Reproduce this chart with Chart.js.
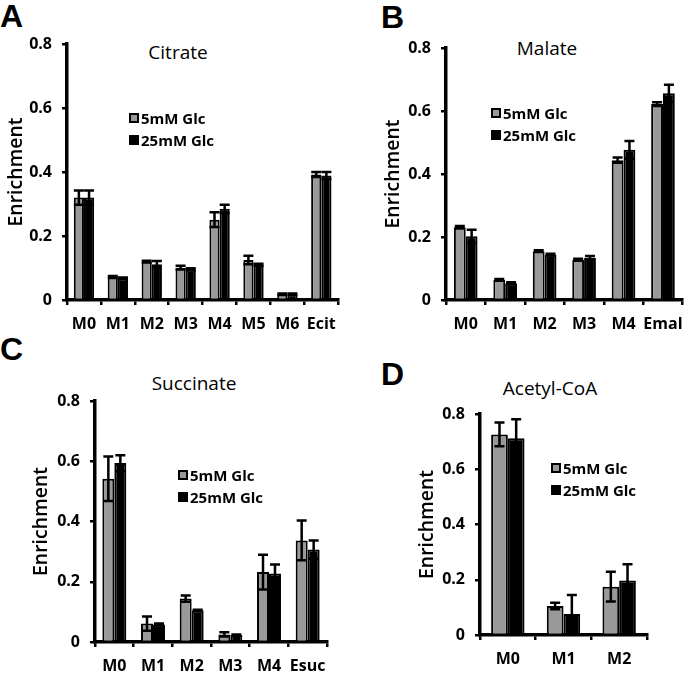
<!DOCTYPE html>
<html><head><meta charset="utf-8">
<script src="https://cdn.jsdelivr.net/npm/chart.js@4.4.0/dist/chart.umd.min.js"></script>
<style>
html,body{margin:0;padding:0;background:#fff}
body{width:693px;height:674px;position:relative;overflow:hidden;font-family:"Open Sans",sans-serif;color:#000}
.wrap{position:absolute}
.letter{position:absolute;font-family:"Liberation Sans",Arial,sans-serif;font-weight:bold;font-size:32px;line-height:32px}
.ptitle{position:absolute;font-size:19px;font-weight:500;line-height:22px;transform:translate(-50%,-50%);white-space:nowrap}
.legend{position:absolute;font-size:15px;font-weight:700;line-height:22px;white-space:nowrap}
.legend .row{display:flex;align-items:center;height:22px}
.legend .box{width:6px;height:6px;margin-right:2px;border:2px solid #000}
</style>
</head><body>

<div class="letter" style="left:0;top:0">A</div>
<div class="letter" style="left:381px;top:1px">B</div>
<div class="letter" style="left:0;top:333px">C</div>
<div class="letter" style="left:381px;top:358px">D</div>

<div class="ptitle" style="left:178px;top:52px">Citrate</div>
<div class="ptitle" style="left:547px;top:48px">Malate</div>
<div class="ptitle" style="left:194px;top:383px">Succinate</div>
<div class="ptitle" style="left:550px;top:388px">Acetyl-CoA</div>

<div class="wrap" style="left:0;top:0;width:346px;height:340px"><canvas id="cA"></canvas></div>
<div class="wrap" style="left:346px;top:0;width:347px;height:340px"><canvas id="cB"></canvas></div>
<div class="wrap" style="left:0;top:340px;width:346px;height:334px"><canvas id="cC"></canvas></div>
<div class="wrap" style="left:346px;top:340px;width:347px;height:334px"><canvas id="cD"></canvas></div>

<div class="legend" style="left:129px;top:107px" id="lgA"></div>
<div class="legend" style="left:491px;top:102px" id="lgB"></div>
<div class="legend" style="left:178px;top:464px" id="lgC"></div>
<div class="legend" style="left:551px;top:457px" id="lgD"></div>

<script>
// ---------- data ----------
const seriesNames = ['5mM Glc', '25mM Glc'];
const yTicks = [0, 0.2, 0.4, 0.6, 0.8];

const citrateLabels = ['M0','M1','M2','M3','M4','M5','M6','Ecit'];
const citrate5      = [0.320, 0.072, 0.120, 0.101, 0.251, 0.125, 0.018, 0.392];
const citrate5Err   = [0.022, 0.003, 0.003, 0.006, 0.023, 0.013, 0.002, 0.008];
const citrate25     = [0.320, 0.068, 0.112, 0.096, 0.285, 0.110, 0.018, 0.389];
const citrate25Err  = [0.022, 0.002, 0.010, 0.003, 0.013, 0.003, 0.002, 0.011];

const malateLabels = ['M0','M1','M2','M3','M4','Emal'];
const malate5      = [0.231, 0.064, 0.155, 0.128, 0.444, 0.622];
const malate5Err   = [0.004, 0.003, 0.003, 0.003, 0.008, 0.006];
const malate25     = [0.202, 0.053, 0.144, 0.134, 0.477, 0.656];
const malate25Err  = [0.021, 0.003, 0.003, 0.006, 0.028, 0.027];

const succinateLabels = ['M0','M1','M2','M3','M4','Esuc'];
const succinate5      = [0.542, 0.061, 0.144, 0.025, 0.232, 0.337];
const succinate5Err   = [0.074, 0.024, 0.010, 0.007, 0.058, 0.066];
const succinate25     = [0.594, 0.058, 0.105, 0.023, 0.227, 0.307];
const succinate25Err  = [0.026, 0.003, 0.002, 0.002, 0.030, 0.030];

const acetylLabels = ['M0','M1','M2'];
const acetyl5      = [0.726, 0.105, 0.175];
const acetyl5Err   = [0.043, 0.012, 0.054];
const acetyl25     = [0.712, 0.076, 0.197];
const acetyl25Err  = [0.069, 0.069, 0.059];

// ---------- styling ----------
const GRAY = '#999999';
const BLACK = '#000000';
const FONT = '"Open Sans", sans-serif';

const errorBarPlugin = {
  id: 'errorBars',
  afterDatasetsDraw(chart) {
    const ctx = chart.ctx;
    const y = chart.scales.y;
    ctx.save();
    ctx.strokeStyle = '#000';
    ctx.lineWidth = 2.5;
    chart.data.datasets.forEach((ds, di) => {
      const meta = chart.getDatasetMeta(di);
      meta.data.forEach((bar, i) => {
        const v = ds.data[i], e = ds.errors[i];
        if (!e) return;
        const yt = y.getPixelForValue(v + e);
        const yb = y.getPixelForValue(Math.max(0, v - e));
        const cap = Math.min(5, bar.width / 2);
        ctx.beginPath();
        ctx.moveTo(bar.x, yt); ctx.lineTo(bar.x, yb);
        ctx.moveTo(bar.x - cap, yt); ctx.lineTo(bar.x + cap, yt);
        ctx.moveTo(bar.x - cap, yb); ctx.lineTo(bar.x + cap, yb);
        ctx.stroke();
      });
    });
    ctx.restore();
  }
};

function makeChart(id, labels, v5, e5, v25, e25, geom) {
  const cv = document.getElementById(id);
  return new Chart(cv, {
    type: 'bar',
    data: {
      labels: labels,
      datasets: [
        { label: seriesNames[0], data: v5, errors: e5, backgroundColor: GRAY, borderColor: BLACK, borderWidth: 2,
          categoryPercentage: geom.cat, barPercentage: 1.0 },
        { label: seriesNames[1], data: v25, errors: e25, backgroundColor: BLACK, borderColor: BLACK, borderWidth: 2,
          categoryPercentage: geom.cat, barPercentage: 1.0 }
      ]
    },
    options: {
      responsive: true,
      maintainAspectRatio: false,
      animation: false,
      events: [],
      layout: { padding: { left: 0, top: geom.top, right: geom.w - geom.right, bottom: 0 } },
      plugins: { legend: { display: false }, tooltip: { enabled: false }, title: { display: false } },
      scales: {
        x: {
          grid: { display: true, drawOnChartArea: false, drawTicks: true, tickLength: 5, color: '#000', lineWidth: 2.5, offset: true },
          border: { display: true, color: '#000', width: 3.5 },
          ticks: { color: '#000', padding: 10, font: { family: FONT, size: 16, weight: 'bold' }, maxRotation: 0, autoSkip: false },
          afterFit(s) { s.height = geom.h - geom.bottom; }
        },
        y: {
          min: 0, max: 0.8,
          afterBuildTicks(s) { s.ticks = yTicks.map(v => ({ value: v })); },
          grid: { display: true, drawOnChartArea: false, drawTicks: true, tickLength: 5, color: '#000', lineWidth: 2.5 },
          border: { display: true, color: '#000', width: 3.5 },
          ticks: { color: '#000', padding: 10, font: { family: FONT, size: 16, weight: 'bold' },
                   callback: v => (v === 0 ? '0' : String(Math.round(v * 10) / 10)) },
          title: { display: true, text: 'Enrichment', color: '#000', padding: { top: geom.tpad, bottom: 0 },
                   font: { family: FONT, size: 19.5, weight: '600' } },
          afterFit(s) { s.width = geom.left; }
        }
      }
    },
    plugins: [errorBarPlugin]
  });
}

function makeLegend(id) {
  const el = document.getElementById(id);
  const fills = [GRAY, BLACK];
  seriesNames.forEach((n, i) => {
    const r = document.createElement('div'); r.className = 'row';
    const b = document.createElement('span'); b.className = 'box'; b.style.background = fills[i];
    const t = document.createElement('span'); t.textContent = n;
    r.appendChild(b); r.appendChild(t); el.appendChild(r);
  });
}

makeChart('cA', citrateLabels, citrate5, citrate5Err, citrate25, citrate25Err,
  { w: 346, h: 340, left: 67, right: 343, top: 44, bottom: 300, cat: 0.6, tpad: 5 });
makeChart('cB', malateLabels, malate5, malate5Err, malate25, malate25Err,
  { w: 347, h: 340, left: 100, right: 342, top: 48, bottom: 300, cat: 0.6, tpad: 36 });
makeChart('cC', succinateLabels, succinate5, succinate5Err, succinate25, succinate25Err,
  { w: 346, h: 334, left: 95, right: 327, top: 61, bottom: 302, cat: 0.62, tpad: 30 });
makeChart('cD', acetylLabels, acetyl5, acetyl5Err, acetyl25, acetyl25Err,
  { w: 347, h: 334, left: 134, right: 301, top: 74, bottom: 295, cat: 0.6, tpad: 70 });

['lgA','lgB','lgC','lgD'].forEach(makeLegend);
</script>
</body></html>
